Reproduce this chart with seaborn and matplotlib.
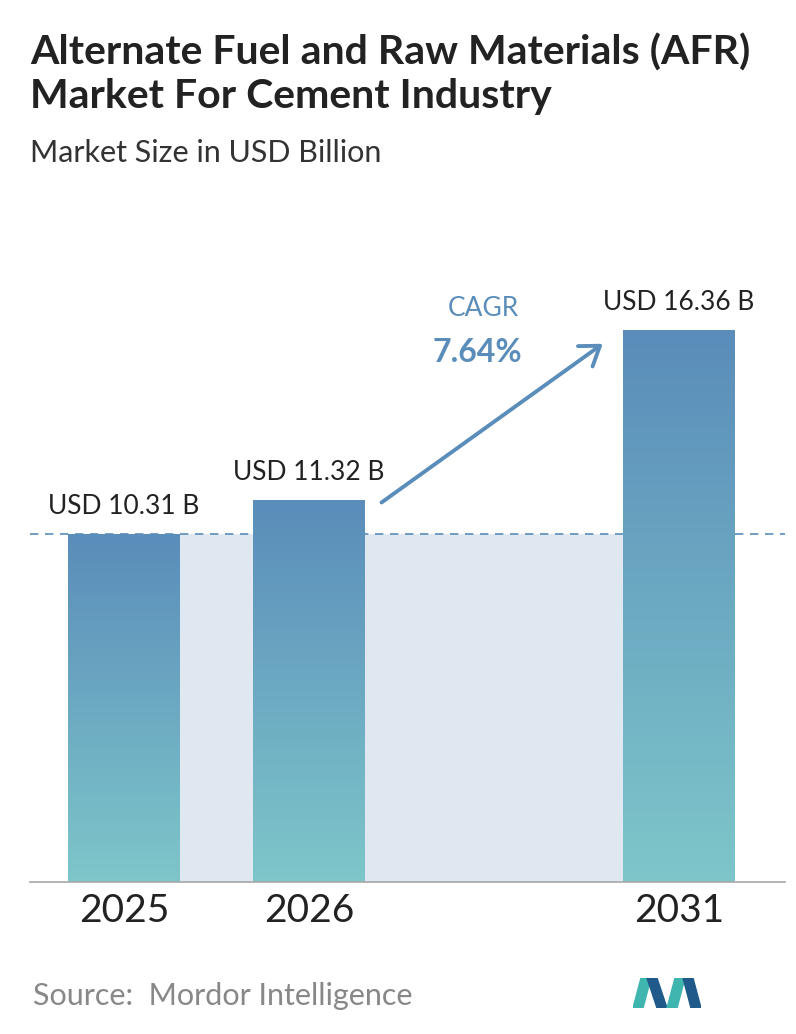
import numpy as np
import pandas as pd
import matplotlib.pyplot as plt
import seaborn as sns
from matplotlib.patches import Polygon, Rectangle, FancyArrowPatch

sns.set_theme(style="white")
plt.rcParams["font.family"] = ["Lato", "DejaVu Sans"]

years = ["2025", "2026", "2031"]
positions = [0, 1, 3]
values = [10.31, 11.32, 16.36]
labels = ["USD 10.31 B", "USD 11.32 B", "USD 16.36 B"]
cagr = "7.64%"

df = pd.DataFrame({"pos": positions, "value": values})

fig = plt.figure(figsize=(7.96, 10.34), dpi=100)
ax = fig.add_axes([30 / 796, 1 - 882 / 1034, 755 / 796, 0.60])
sns.barplot(data=df, x="pos", y="value", native_scale=True, width=0.6,
            color="#6a9fc0", ax=ax, zorder=3)
ax.set_xlim(-0.508, 3.573)
ax.set_ylim(0, 16.36 / (552 / (0.60 * 1034)))

# vertical gradient inside each bar
grad = np.linspace(0, 1, 256).reshape(-1, 1)
cmap = sns.blend_palette(["#7ec6ca", "#5a8dba"], as_cmap=True)
for p in ax.patches:
    x0, w, h = p.get_x(), p.get_width(), p.get_height()
    im = ax.imshow(grad, cmap=cmap, origin="lower", aspect="auto",
                   extent=(x0, x0 + w, 0, h), zorder=4)
    im.set_clip_path(p)
    p.set_edgecolor("none")

# light band and dashed reference line
ax.add_patch(Rectangle((positions[0] + 0.3, 0), positions[2] - positions[0] - 0.6, values[0],
                       color="#dfe8f0", zorder=1, lw=0))
ax.axhline(values[0], color="#5a8dba", ls=(0, (5, 4)), lw=1.2, zorder=2)

for x, v, lab in zip(positions, values, labels):
    ax.text(x, v + 0.45, lab, ha="center", va="bottom", fontsize=19, color="#222222")

ax.add_patch(FancyArrowPatch((1.38, 11.2), (2.6, 16.0), arrowstyle="->,head_length=13,head_width=9",
                             color="#5a8dba", lw=2.8, mutation_scale=1, zorder=5))
ax.text(1.94, 17.0, "CAGR", ha="center", va="center", fontsize=19, color="#5a8dba")
ax.text(1.91, 15.7, cagr, ha="center", va="center", fontsize=23, fontweight="bold", color="#5a8dba")

ax.set_xticks(positions)
ax.set_xticklabels(years, fontsize=28, color="#222222")
ax.tick_params(axis="x", length=0, pad=8)
ax.set_yticks([])
ax.set_xlabel("")
ax.set_ylabel("")
for s in ["top", "left", "right"]:
    ax.spines[s].set_visible(False)
ax.spines["bottom"].set_color("#aaaaaa")
ax.spines["bottom"].set_zorder(6)

fig.text(30 / 796, 1 - 74 / 1034, "Alternate Fuel and Raw Materials (AFR)\nMarket For Cement Industry",
         fontsize=29.5, fontweight="bold", color="#222222", va="center", linespacing=1.22)
fig.text(30 / 796, 1 - 153 / 1034, "Market Size in USD Billion", fontsize=22, color="#333333", va="center")
fig.text(33 / 796, 1 - 996 / 1034, "Source:  Mordor Intelligence", fontsize=22, color="#888888", va="center")

# logo
la = fig.add_axes([633 / 796, 1 - 1008 / 1034, 68 / 796, 30 / 1034])
la.set_xlim(0, 68)
la.set_ylim(0, 30)
la.axis("off")
la.add_patch(Polygon([(0, 0), (8, 30), (18, 30), (10, 0)], color="#3fb5b0"))
la.add_patch(Polygon([(14, 30), (24, 0), (34, 0), (24, 30)], color="#1f5a8a"))
la.add_patch(Polygon([(34, 0), (42, 30), (52, 30), (44, 0)], color="#3fb5b0"))
la.add_patch(Polygon([(50, 30), (58, 0), (68, 0), (60, 30)], color="#1f5a8a"))

fig.savefig("out.png", dpi=100)
